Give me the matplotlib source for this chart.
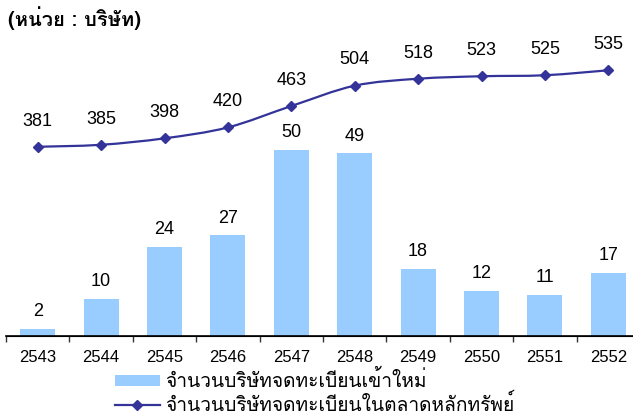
import matplotlib
matplotlib.use("Agg")
import matplotlib.pyplot as plt
import numpy as np
from matplotlib.path import Path
from matplotlib.patches import PathPatch, Patch
from matplotlib.lines import Line2D
from matplotlib.font_manager import FontProperties

years = ["2543", "2544", "2545", "2546", "2547", "2548", "2549", "2550", "2551", "2552"]
new_listed = [2, 10, 24, 27, 50, 49, 18, 12, 11, 17]
total_listed = [381, 385, 398, 420, 463, 504, 518, 523, 525, 535]
title = "(หน่วย : บริษัท)"
label_bar = "จำนวนบริษัทจดทะเบียนเข้าใหม่"
label_line = "จำนวนบริษัทจดทะเบียนในตลาดหลักทรัพย์"

BAR_C = "#99CCFF"
LINE_C = "#333399"
NUM_FONT = ["Liberation Sans", "DejaVu Sans"]
THAI_FONT = ["Loma", "Noto Sans Thai Looped", "DejaVu Sans"]

W, H = 633, 416
fig = plt.figure(figsize=(W / 100, H / 100), dpi=100)
ax_l, ax_r, ax_b, ax_t = 6, 640, 336, 38
ax = fig.add_axes([ax_l / W, (H - ax_b) / H, (ax_r - ax_l) / W, (ax_b - ax_t) / H])
ax2 = ax.twinx()

x = np.arange(len(years))
ax.bar(x, new_listed, width=0.55, color=BAR_C, zorder=2)
ax.set_xlim(-0.5, len(years) - 0.5)
ax.set_ylim(0, 80)
for xi, v in zip(x, new_listed):
    ax.annotate(str(v), (xi, v), xytext=(0, 12.5), textcoords="offset points",
                ha="center", va="center", fontsize=13, family=NUM_FONT)

# smoothed line (Catmull-Rom via cubic Bezier)
pts = np.column_stack([x, total_listed]).astype(float)
verts = [pts[0]]
codes = [Path.MOVETO]
n = len(pts)
for i in range(n - 1):
    p0 = pts[max(i - 1, 0)]
    p1 = pts[i]
    p2 = pts[i + 1]
    p3 = pts[min(i + 2, n - 1)]
    c1 = p1 + (p2 - p0) / 6.0
    c2 = p2 - (p3 - p1) / 6.0
    verts += [c1, c2, p2]
    codes += [Path.CURVE4] * 3
ax2.add_patch(PathPatch(Path(verts, codes), facecolor="none", edgecolor=LINE_C, lw=1.6, zorder=3))
ax2.plot(x, total_listed, linestyle="none", marker="D", markersize=5.5, color=LINE_C, zorder=4)
ax2.set_ylim(0, 600)
for xi, v in zip(x, total_listed):
    ax2.annotate(str(v), (xi, v), xytext=(0, 18.5), textcoords="offset points",
                 ha="center", va="center", fontsize=13, family=NUM_FONT)

for a in (ax, ax2):
    for s in ("top", "right", "left"):
        a.spines[s].set_visible(False)
    a.set_yticks([])
ax.spines["bottom"].set_linewidth(1.2)
ax.spines["bottom"].set_color("black")
ax.set_xticks(x)
ax.set_xticklabels(years, fontsize=12, family=NUM_FONT)
ax.tick_params(axis="x", which="major", length=0, pad=10)
ax.set_xticks(np.arange(-0.5, len(years), 1), minor=True)
ax.tick_params(axis="x", which="minor", length=4, width=1, color="#333333", direction="out")

fig.text(8 / W, 1 - 18 / H, title, fontsize=14.5, fontweight="bold", family=THAI_FONT,
         ha="left", va="center")

handles = [Patch(facecolor=BAR_C, edgecolor="none"),
           Line2D([0], [0], color=LINE_C, lw=1.6, marker="D", markersize=5.5)]
fig.legend(handles, [label_bar, label_line], loc="upper left",
           bbox_to_anchor=(115 / W, 1 - 370 / H), frameon=False,
           prop=FontProperties(family=THAI_FONT, size=13.8),
           handlelength=2.34, handleheight=0.47, handletextpad=0.26, labelspacing=0.16,
           borderpad=0, borderaxespad=0)

fig.savefig("out.png", dpi=100)
